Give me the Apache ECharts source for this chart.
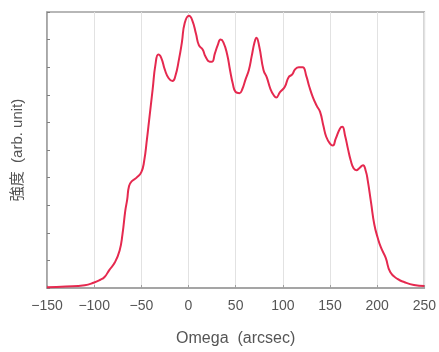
<!DOCTYPE html>
<html>
<head>
<meta charset="utf-8">
<script src="https://cdn.jsdelivr.net/npm/echarts@6/dist/echarts.min.js"></script>
<style>
html,body{margin:0;padding:0;background:#fff;}
#c{width:439px;height:352px;}
</style>
</head>
<body>
<div id="c"></div>
<script>
var omega = [-150,-130,-110,-100,-94,-89,-84,-78,-73,-70,-67,-65,-63,-60,-55,-50,-47,-44,-42,-38,-35,-32,-29,-25,-21,-17,-14,-10,-7,-4,0.5,4,8,11,15,18,22.5,25,28,31,34,37,41,44,47,50,54,57,60.5,64,67,70,72,75,79.5,83,87,91,93,97,102,106,110,113,117,121,125,128,132,136,139.5,143,146,150,153,156,160.5,163,166,169,172,175,178,181,185,188,190,193.5,197,200.5,204,209,214,222,229,239,250];
var intensity = [0.03,0.05,0.1,0.2,0.29,0.4,0.65,0.93,1.36,1.94,2.8,3.2,3.7,3.87,4.0,4.2,4.6,5.4,6.0,7.2,8.1,8.46,8.35,7.9,7.6,7.5,7.67,8.3,8.9,9.6,9.86,9.7,9.2,8.8,8.64,8.39,8.2,8.2,8.5,8.8,9.0,8.9,8.46,7.9,7.4,7.1,7.06,7.2,7.56,7.9,8.4,8.9,9.07,8.75,7.9,7.63,7.2,6.95,6.9,7.1,7.28,7.63,7.74,7.92,8.0,8.0,7.67,7.3,6.9,6.6,6.38,5.88,5.48,5.23,5.16,5.4,5.77,5.84,5.52,5.05,4.62,4.34,4.27,4.34,4.45,4.23,3.9,3.1,2.3,1.83,1.47,1.1,0.57,0.32,0.21,0.11,0.07];
var xTicks = [-150,-100,-50,0,50,100,150,200,250];
var xLabel = 'Omega  (arcsec)';
var yLabel = '強度  (arb. unit)';

var pts = omega.map(function(x,i){return [x,intensity[i]];});
var chart = echarts.init(document.getElementById('c'));
var font = '"Liberation Sans", "Noto Sans CJK JP", sans-serif';
chart.setOption({
  animation:false,
  grid:{left:47,right:12,top:12,bottom:61,show:true,borderColor:'#a0a0a0',borderWidth:1.5,backgroundColor:'transparent'},
  xAxis:{type:'value',min:-150,max:250,interval:50,
    name:xLabel,nameLocation:'middle',nameGap:43,
    nameTextStyle:{fontFamily:font,fontSize:16,color:'#555'},
    axisLine:{show:true,onZero:false,lineStyle:{color:'#a0a0a0',width:1.5}},
    axisTick:{show:true,inside:true,length:3,lineStyle:{color:'#a0a0a0'}},
    axisLabel:{fontFamily:font,fontSize:14,color:'#555',margin:11,
      formatter:function(v){return xTicks.indexOf(v)>=0 ? String(v).replace('-','\u2212') : '';}},
    splitLine:{show:true,lineStyle:{color:'#e2e2e2',width:1}}
  },
  yAxis:{type:'value',min:0,max:10,interval:1,
    name:yLabel,nameLocation:'middle',nameGap:22,
    nameTextStyle:{fontFamily:font,fontSize:15,color:'#555'},
    axisLine:{show:true,onZero:false,lineStyle:{color:'#a0a0a0',width:1.5}},
    axisTick:{show:true,inside:true,length:3,lineStyle:{color:'#808080'}},
    axisLabel:{show:false},
    splitLine:{show:false}
  },
  series:[{type:'line',data:pts,showSymbol:false,smooth:0.5,
    lineStyle:{color:'#e5294f',width:2}}]
});
</script>
</body>
</html>
